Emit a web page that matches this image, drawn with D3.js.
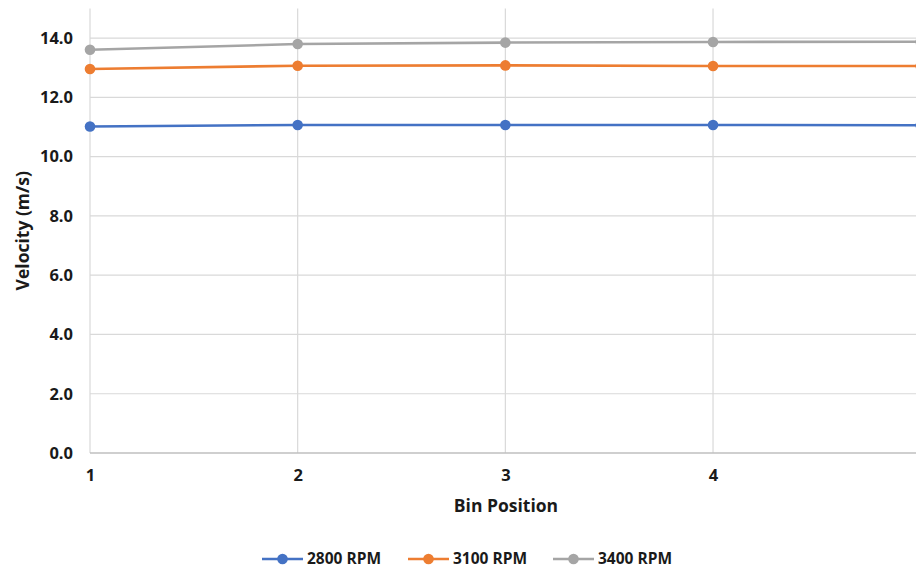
<!DOCTYPE html>
<html>
<head>
<meta charset="utf-8">
<script src="https://cdn.jsdelivr.net/npm/d3@7/dist/d3.min.js"></script>
<style>
  html, body { margin: 0; padding: 0; background: #fff; overflow: hidden; }
  svg { display: block; font-family: "Open Sans", Lato, "Liberation Sans", sans-serif; }
</style>
</head>
<body>
<svg id="chart" width="916" height="569"></svg>
<script>
// Bin positions along the x axis
const binPositions = [1, 2, 3, 4, 5];
// Measured velocity (m/s) per fan speed
const rpm2800 = [11.02, 11.07, 11.07, 11.07, 11.06];
const rpm3100 = [12.96, 13.07, 13.08, 13.06, 13.06];
const rpm3400 = [13.61, 13.80, 13.85, 13.87, 13.88];
const seriesNames = ["2800 RPM", "3100 RPM", "3400 RPM"];
const seriesColors = ["#4472C4", "#ED7D31", "#A5A5A5"];
const yTicks = [0, 2, 4, 6, 8, 10, 12, 14];
const xTicks = [1, 2, 3, 4];

const series = [rpm2800, rpm3100, rpm3400].map((vals, i) => ({
  name: seriesNames[i],
  color: seriesColors[i],
  points: vals.map((v, j) => ({ x: binPositions[j], y: v }))
}));

const svg = d3.select("#chart");
const x = d3.scaleLinear().domain([1, 5]).range([90, 920.7]);
const y = d3.scaleLinear().domain([0, 15]).range([453, 8.5]);
const textColor = "#1a1a1a";

// Horizontal gridlines
svg.append("g").selectAll("line").data(yTicks.filter(d => d > 0)).join("line")
  .attr("x1", x(1)).attr("x2", 916)
  .attr("y1", d => y(d)).attr("y2", d => y(d))
  .attr("stroke", "#d9d9d9").attr("stroke-width", 1.2);

// Vertical gridlines
svg.append("g").selectAll("line").data(xTicks).join("line")
  .attr("x1", d => x(d)).attr("x2", d => x(d))
  .attr("y1", y(0)).attr("y2", y(15))
  .attr("stroke", "#d9d9d9").attr("stroke-width", 1.2);

// Baseline
svg.append("line")
  .attr("x1", x(1)).attr("x2", 916)
  .attr("y1", y(0)).attr("y2", y(0))
  .attr("stroke", "#bfbfbf").attr("stroke-width", 1.5);

// Y axis labels
const yAxis = d3.axisLeft(y).tickValues(yTicks).tickFormat(d3.format(".1f")).tickSize(0).tickPadding(0);
const gy = svg.append("g").attr("transform", "translate(73,0)").call(yAxis);
gy.select(".domain").remove();
gy.selectAll("text").attr("font-size", 16.5).attr("font-weight", "bold").attr("fill", textColor)
  .attr("font-family", "'Open Sans', Lato, sans-serif");

// X axis labels
const xAxis = d3.axisBottom(x).tickValues(xTicks).tickFormat(d3.format("d")).tickSize(0).tickPadding(0);
const gx = svg.append("g").attr("transform", "translate(0,469)").call(xAxis);
gx.select(".domain").remove();
gx.selectAll("text").attr("font-size", 16.5).attr("font-weight", "bold").attr("fill", textColor)
  .attr("font-family", "'Open Sans', Lato, sans-serif");

// Axis titles
svg.append("text")
  .attr("transform", "translate(29," + y(7.5) + ") rotate(-90)")
  .attr("text-anchor", "middle")
  .attr("font-size", 17.5).attr("font-weight", "bold").attr("fill", textColor)
  .text("Velocity (m/s)");
svg.append("text")
  .attr("x", 506).attr("y", 512)
  .attr("text-anchor", "middle")
  .attr("font-size", 17.5).attr("font-weight", "bold").attr("fill", textColor)
  .text("Bin Position");

// Series lines and markers
const line = d3.line().x(d => x(d.x)).y(d => y(d.y));
series.forEach(s => {
  svg.append("path").datum(s.points)
    .attr("d", line).attr("fill", "none")
    .attr("stroke", s.color).attr("stroke-width", 2.6);
  svg.append("g").selectAll("circle").data(s.points).join("circle")
    .attr("cx", d => x(d.x)).attr("cy", d => y(d.y)).attr("r", 5.3)
    .attr("fill", s.color);
});

// Legend
const legendX = [262, 408, 553];
const legend = svg.append("g");
series.forEach((s, i) => {
  const g = legend.append("g").attr("transform", `translate(${legendX[i]},559)`);
  g.append("line").attr("x1", 0).attr("x2", 41).attr("y1", 0).attr("y2", 0)
    .attr("stroke", s.color).attr("stroke-width", 2.6);
  g.append("circle").attr("cx", 20.5).attr("cy", 0).attr("r", 5.3).attr("fill", s.color);
  g.append("text").attr("x", 45).attr("y", 5)
    .attr("font-size", 15.5).attr("font-weight", "bold").attr("fill", textColor)
    .text(s.name);
});
</script>
</body>
</html>
